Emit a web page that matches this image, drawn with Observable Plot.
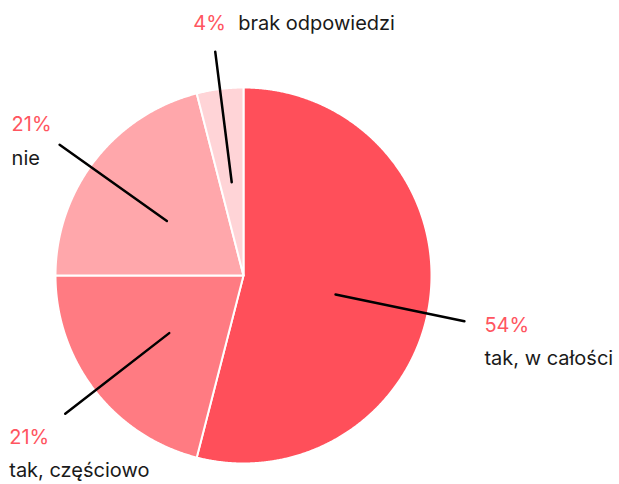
<!DOCTYPE html>
<html><head><meta charset="utf-8">
<script src="https://cdn.jsdelivr.net/npm/d3@7"></script>
<script src="https://cdn.jsdelivr.net/npm/@observablehq/plot@0.6"></script>
<style>body{margin:0;background:#fff}</style>
</head><body><div id="chart"></div>
<script>
const categories = ["tak, w całości", "tak, częściowo", "nie", "brak odpowiedzi"];
const values = [54, 21, 21, 4];
const pctLabels = ["54%", "21%", "21%", "4%"];
const colors = ["#ff4f5a", "#ff7b82", "#ffa7ab", "#ffd4d7"];

// layout (pixels / degrees)
const W = 619, H = 484, CX = 243, CY = 275, R = 188;
const angleNudge = [4.5, 0, -2.4, 0];
const pctOffset = [[20, 11], [-56, 30], [-48, -14], [-22, -22]];
const nameOffset = [[20, 44], [-56, 63], [-48, 20], [23, -22]];
const FONT = "Inter, Roboto, sans-serif";

const rows = categories.map((c, i) => ({cat: c, value: values[i], i}));
const arcs = d3.pie().sort(null).value(d => d.value)(rows);

const slices = arcs.map(p => {
  const pts = [{x: 0, y: 0}];
  const n = Math.max(2, Math.ceil((p.endAngle - p.startAngle) / 0.005));
  for (let k = 0; k <= n; k++) {
    const a = p.startAngle + (p.endAngle - p.startAngle) * k / n;
    pts.push({x: Math.sin(a), y: Math.cos(a)});
  }
  pts.push({x: 0, y: 0});
  return pts;
});

const leaders = [];
const pctText = [];
const nameText = [];
arcs.forEach((p, i) => {
  const a = (p.startAngle + p.endAngle) / 2 + angleNudge[i] * Math.PI / 180;
  const ex = 1.2 * Math.sin(a), ey = 1.2 * Math.cos(a);
  leaders.push({x: 0.5 * Math.sin(a), y: 0.5 * Math.cos(a), z: i});
  leaders.push({x: ex, y: ey, z: i});
  pctText.push({x: ex + pctOffset[i][0] / R, y: ey - pctOffset[i][1] / R, t: pctLabels[i]});
  nameText.push({x: ex + nameOffset[i][0] / R, y: ey - nameOffset[i][1] / R, t: p.data.cat});
});

const chart = Plot.plot({
  width: W, height: H,
  margin: 0,
  x: {domain: [-CX / R, (W - CX) / R], range: [0, W], axis: null},
  y: {domain: [-(H - CY) / R, CY / R], range: [H, 0], axis: null},
  marks: [
    ...slices.map((pts, i) => Plot.line(pts, {x: "x", y: "y", fill: colors[i], stroke: "white", strokeWidth: 2, strokeLinejoin: "round", curve: "linear"})),
    Plot.line(leaders, {x: "x", y: "y", z: "z", stroke: "black", strokeWidth: 2.5}),
    Plot.text(pctText, {x: "x", y: "y", text: "t", textAnchor: "start", lineAnchor: "bottom", fill: "#ff5560", fontSize: 20, fontFamily: FONT}),
    Plot.text(nameText, {x: "x", y: "y", text: "t", textAnchor: "start", lineAnchor: "bottom", fill: "#1a1a1a", fontSize: 20, fontFamily: FONT})
  ]
});
document.getElementById("chart").appendChild(chart);
</script>
</body></html>
